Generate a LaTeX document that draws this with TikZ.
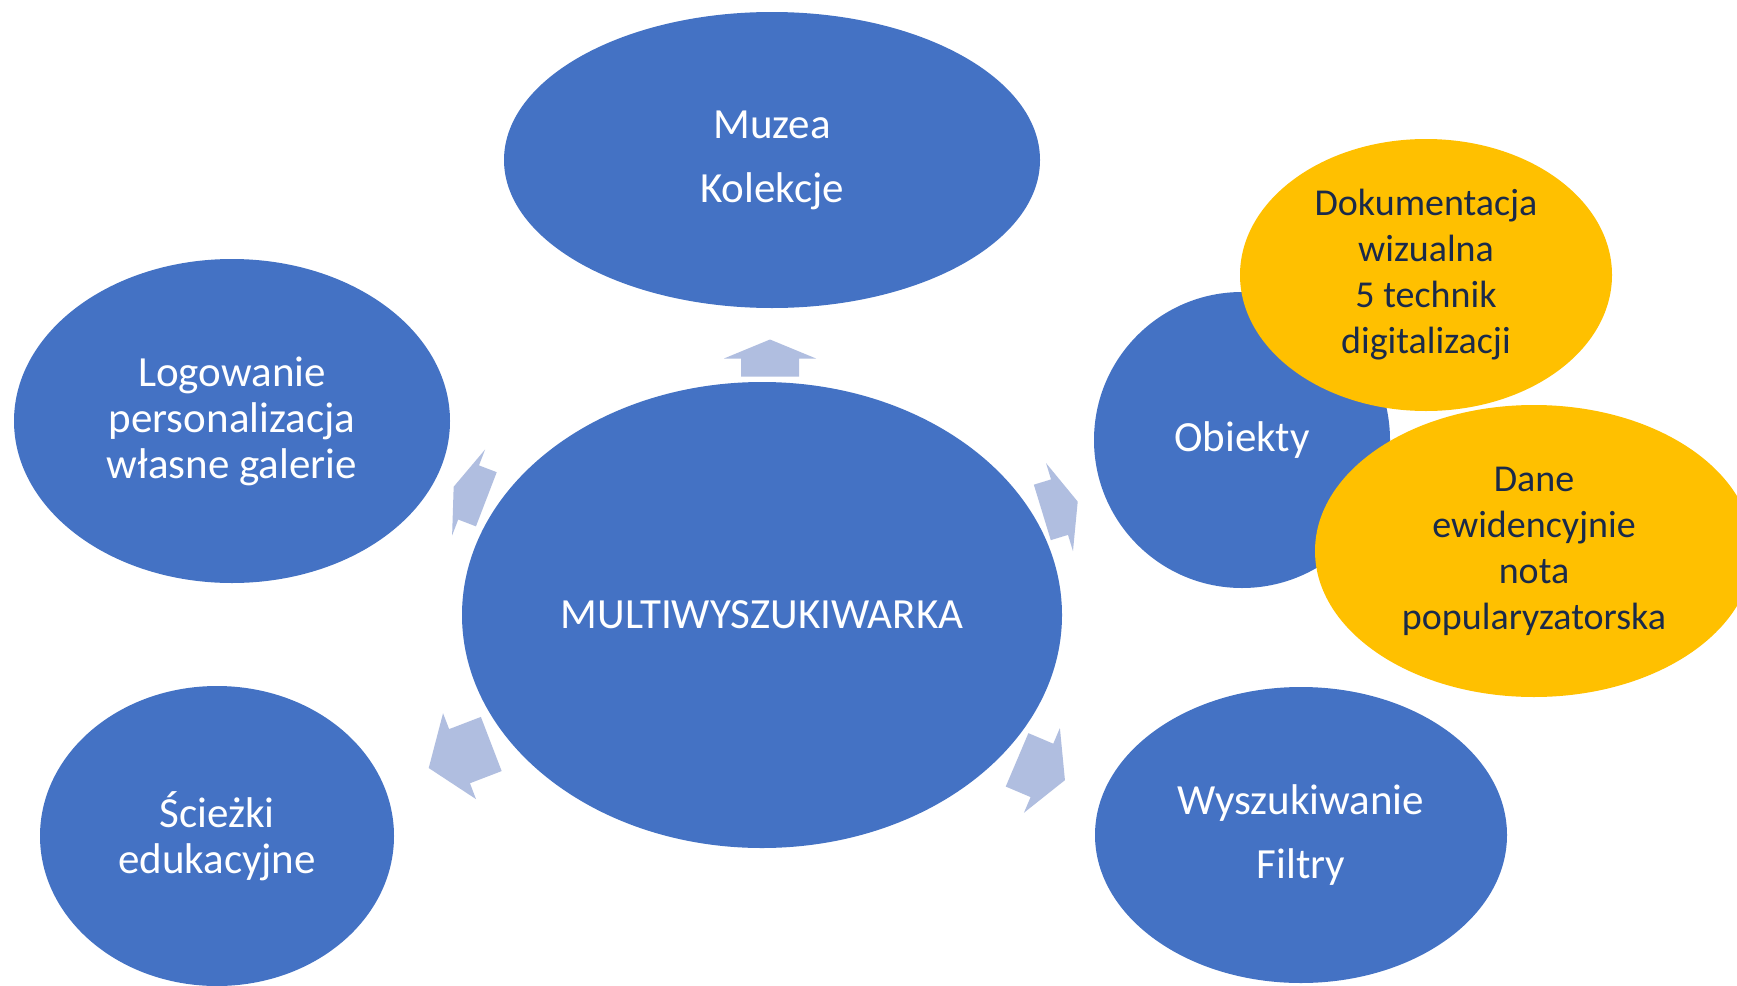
\documentclass[tikz,border=0pt]{standalone}
\usepackage{fontspec}
\setmainfont{Carlito}
\usetikzlibrary{shapes.geometric}
\definecolor{bluef}{HTML}{4472C4}
\definecolor{yellowf}{HTML}{FFC000}
\definecolor{navyt}{HTML}{1A2A4A}
\definecolor{arrowc}{HTML}{B0BEE0}
% name, x, y, angle, total length, head length
\newcommand\blockarr[6]{%
  \coordinate (#1) at (#2,#3);
  \fill[arrowc, shift={(#1)}, rotate=#4]
    (-#5/2,-29) -- ({#5/2-#6},-29) -- ({#5/2-#6},-46) -- (#5/2,0)
    -- ({#5/2-#6},46) -- ({#5/2-#6},29) -- (-#5/2,29) -- cycle;}
\begin{document}
\begin{tikzpicture}[x=1pt,y=-1pt,
  bubble/.style={ellipse, fill=bluef, draw=none, inner sep=0pt, text=white,
    align=center, font=\fontsize{43}{46}\selectfont},
  ybubble/.style={bubble, fill=yellowf, text=navyt, font=\fontsize{38}{46}\selectfont}]
\useasboundingbox[fill=white] (0,0) rectangle (1737,985);
\node[bubble, minimum width=600pt, minimum height=466pt] (center) at (762,615) {MULTIWYSZUKIWARKA};
\node[bubble, minimum width=536pt, minimum height=296pt] (muzea) at (772,160) {Muzea\\[18pt]Kolekcje};
\node[bubble, minimum width=436pt, minimum height=324pt] (login) at (232,421) {Logowanie\\personalizacja\\własne galerie};
\node[bubble, minimum width=354pt, minimum height=300pt] (sciezki) at (217,836) {Ścieżki\\edukacyjne};
\node[bubble, minimum width=412pt, minimum height=296pt] (wysz) at (1301,835) {Wyszukiwanie\\[18pt]Filtry};
\node[bubble, minimum width=296pt, minimum height=296pt] (obiekty) at (1242,440) {Obiekty};
\node[ybubble, minimum width=372pt, minimum height=272pt] (dok) at (1426,275) {Dokumentacja\\wizualna\\5 technik\\digitalizacji};
\node[ybubble, minimum width=438pt, minimum height=292pt] (dane) at (1534,551) {Dane\\ewidencyjnie\\nota\\popularyzatorska};
\blockarr{atop}{770}{358}{90}{37}{19}
\blockarr{aul}{470}{493}{159}{35}{16}
\blockarr{aur}{1060}{507}{17}{37}{19}
\blockarr{all}{460}{756}{201}{67}{33}
\blockarr{alr}{1041}{770}{337}{52}{25}
\end{tikzpicture}
\end{document}
